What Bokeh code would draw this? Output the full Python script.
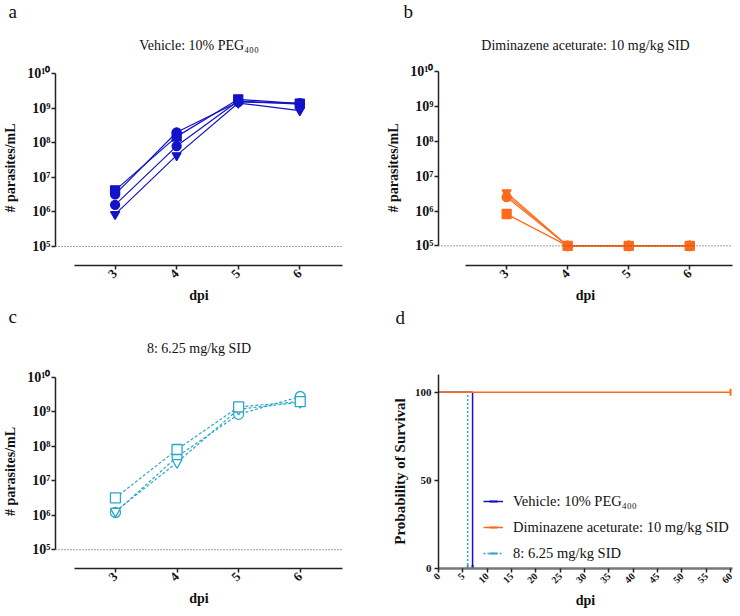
import math
from bokeh.plotting import figure
from bokeh.models import FixedTicker, Span, Title, Legend, LegendItem
from bokeh.layouts import gridplot
from bokeh.embed import file_html
from bokeh.resources import INLINE

FONT = "Liberation Serif"
BLUE = "#1212C8"
ORANGE = "#FF6A1A"
CYAN = "#2AA8C6"

# ---------------- data ----------------
dpi_days = [3, 4, 5, 6]
y_ticks = [1e5, 1e6, 1e7, 1e8, 1e9, 1e10]
y_tick_labels = ["10⁵", "10⁶", "10⁷", "10⁸", "10⁹", "10¹⁰"]
detection_limit = 1e5

vehicle_markers = ["square", "circle", "circle", "inverted_triangle"]
vehicle_m1 = [4.2e6, 1.5e8, 1.8e9, 1.35e9]
vehicle_m2 = [3.2e6, 2.0e8, 1.5e9, 1.4e9]
vehicle_m3 = [1.6e6, 8.0e7, 1.6e9, 1.3e9]
vehicle_m4 = [8.5e5, 4.3e7, 1.4e9, 8.5e8]

dim_markers = ["inverted_triangle", "triangle", "circle", "square"]
dim_m1 = [3.4e6, 1e5, 1e5, 1e5]
dim_m2 = [2.9e6, 1e5, 1e5, 1e5]
dim_m3 = [2.5e6, 1e5, 1e5, 1e5]
dim_m4 = [8.2e5, 1e5, 1e5, 1e5]

cmp8_markers = ["circle", "inverted_triangle", "square"]
cmp8_m1 = [1.2e6, 5.0e7, 8.5e8, 2.8e9]
cmp8_m2 = [1.3e6, 3.4e7, 1.2e9, 1.9e9]
cmp8_m3 = [3.2e6, 8.1e7, 1.4e9, 2.0e9]

surv_ticks = [0, 5, 10, 15, 20, 25, 30, 35, 40, 45, 50, 55, 60]
surv_y_ticks = [0, 50, 100]
vehicle_surv_days = [0, 7]
vehicle_surv = [100, 0]
dim_surv_days = [0, 60]
dim_surv = [100, 100]
cmp8_surv_days = [0, 6]
cmp8_surv = [100, 0]

label_vehicle = "Vehicle: 10% PEG₄₀₀"
label_dim = "Diminazene aceturate: 10 mg/kg SID"
label_cmp8 = "8: 6.25 mg/kg SID"


def style_axes(p, xlab, ylab, xsize="13px", ysize="14px"):
    for ax in (p.xaxis[0], p.yaxis[0]):
        ax.axis_line_width = 1.5
        ax.axis_line_color = "#222222"
        ax.major_tick_line_width = 1.5
        ax.major_tick_line_color = "#222222"
        ax.major_tick_out = 4
        ax.major_tick_in = 0
        ax.minor_tick_line_color = None
        ax.major_label_text_font = FONT
        ax.major_label_text_font_style = "bold"
        ax.major_label_text_color = "#111111"
        ax.axis_label_text_font = FONT
        ax.axis_label_text_font_style = "bold"
        ax.axis_label_text_font_size = "14px"
        ax.axis_label_text_color = "#111111"
    p.xaxis.axis_label = xlab
    p.yaxis.axis_label = ylab
    p.xaxis.major_label_text_font_size = xsize
    p.yaxis.major_label_text_font_size = ysize
    p.xaxis.major_label_orientation = math.pi / 4
    p.xaxis.major_label_standoff = 2
    p.xaxis.axis_label_standoff = 3
    p.yaxis.major_label_standoff = 1
    p.yaxis.axis_label_standoff = 6
    p.grid.visible = False
    p.outline_line_color = None


def add_titles(p, letter, letter_offset, letter_standoff, subtitle,
               sub_standoff, sub_size="14px"):
    p.title.text = letter
    p.title.align = "left"
    p.title.offset = letter_offset
    p.title.standoff = letter_standoff
    p.title.text_font = FONT
    p.title.text_font_size = "19px"
    p.title.text_font_style = "normal"
    p.title.text_color = "#111111"
    p.add_layout(Title(text=subtitle, align="center", standoff=sub_standoff,
                       text_font=FONT, text_font_size=sub_size,
                       text_font_style="normal", text_color="#111111"),
                 "above")


def log_panel(series, markers, color, filled, dash, size, x_range, y_logs,
              axis_low, borders):
    left, right, top, bottom = borders
    p = figure(width=size[0], height=size[1], x_range=x_range,
               y_range=(10 ** y_logs[0], 10 ** y_logs[1]), y_axis_type="log",
               output_backend="svg", toolbar_location=None,
               min_border_left=left, min_border_right=right,
               min_border_top=top, min_border_bottom=bottom)
    style_axes(p, "dpi", "# parasites/mL")
    p.yaxis.ticker = FixedTicker(ticks=y_ticks, minor_ticks=[])
    p.yaxis.major_label_overrides = dict(zip(y_ticks, y_tick_labels))
    p.yaxis.bounds = (y_ticks[0], y_ticks[-1])
    p.xaxis.ticker = FixedTicker(ticks=dpi_days, minor_ticks=[])
    p.xaxis.bounds = (axis_low, x_range[1])
    p.add_layout(Span(location=detection_limit, dimension="width",
                      line_color="#444444", line_width=1, line_dash="1 2"))
    for vals, mk in zip(series, markers):
        p.line(dpi_days, vals, line_color=color, line_width=1.2,
               line_dash=dash)
        p.scatter(dpi_days, vals, marker=mk, size=9 if filled else 10,
                  line_color=color, line_width=1.3,
                  fill_color=color if filled else "white")
    return p


W0, W1 = 369, 369
H0, H1 = 306, 308

# panel a
pa = log_panel([vehicle_m1, vehicle_m2, vehicle_m3, vehicle_m4], vehicle_markers,
               BLUE, True, "solid", (W0, H0), (2.032, 6.694), (4.451, 10.087),
               2.34, (53, 27, 70, 41))
add_titles(pa, "a", -47, -8, label_vehicle, 36)

# panel b
pb = log_panel([dim_m1, dim_m2, dim_m3, dim_m4], dim_markers,
               ORANGE, True, "solid", (W1, H0), (1.884, 6.70), (4.437, 10.03),
               2.33, (61, 6, 70, 41))
add_titles(pb, "b", -35, -8, label_dim, 36)

# panel c
pc = log_panel([cmp8_m1, cmp8_m2, cmp8_m3], cmp8_markers,
               CYAN, False, "3 2", (W0, H1), (2.027, 6.686), (4.454, 10.086),
               2.33, (53, 24, 66, 46))
add_titles(pc, "c", -47, -14, label_cmp8, 38)

# panel d
pd_ = figure(width=W1, height=H1, x_range=(0, 60.4), y_range=(0, 110),
             output_backend="svg", toolbar_location=None,
             min_border_left=69, min_border_right=6,
             min_border_top=68, min_border_bottom=45)
style_axes(pd_, "dpi", "Probability of Survival", xsize="10px", ysize="11px")
pd_.xaxis.ticker = FixedTicker(ticks=surv_ticks, minor_ticks=[])
pd_.yaxis.ticker = FixedTicker(ticks=surv_y_ticks, minor_ticks=[])
pd_.yaxis.major_label_standoff = 3
pd_.yaxis.axis_label_standoff = 4
pd_.xaxis.axis_line_color = "#777777"
pd_.xaxis.axis_line_width = 2.5
pd_.yaxis.axis_label_text_font_size = "15px"
add_titles(pd_, "d", -43, -8, " ", 34)

rv = pd_.step(vehicle_surv_days, vehicle_surv, mode="after",
              line_color=BLUE, line_width=1.5)
sv = pd_.scatter(vehicle_surv_days[-1:], vehicle_surv[-1:], marker="dash",
                 angle=math.pi / 2, size=7, line_width=2, line_color=BLUE)
rc = pd_.step(cmp8_surv_days, cmp8_surv, mode="after",
              line_color=CYAN, line_width=1.5, line_dash="2 2")
sc = pd_.scatter(cmp8_surv_days[-1:], cmp8_surv[-1:], marker="dash",
                 angle=math.pi / 2, size=7, line_width=2, line_color=CYAN)
rd = pd_.step(dim_surv_days, dim_surv, mode="after",
              line_color=ORANGE, line_width=1.5)
sd = pd_.scatter(dim_surv_days[-1:], dim_surv[-1:], marker="dash",
                 angle=math.pi / 2, size=7, line_width=2, line_color=ORANGE)

legend = Legend(items=[
    LegendItem(label=label_vehicle, renderers=[rv, sv]),
    LegendItem(label=label_dim, renderers=[rd, sd]),
    LegendItem(label=label_cmp8, renderers=[rc, sc]),
], location=(45, 5), padding=0, margin=0, spacing=6,
    glyph_width=20, glyph_height=20, label_height=20, label_standoff=10,
    border_line_color=None, background_fill_alpha=0,
    label_text_font=FONT, label_text_font_size="14.5px",
    label_text_color="#111111")
pd_.add_layout(legend)

grid = gridplot([[pa, pb], [pc, pd_]], toolbar_location=None)

open("out.html", "w").write(file_html(grid, INLINE))
